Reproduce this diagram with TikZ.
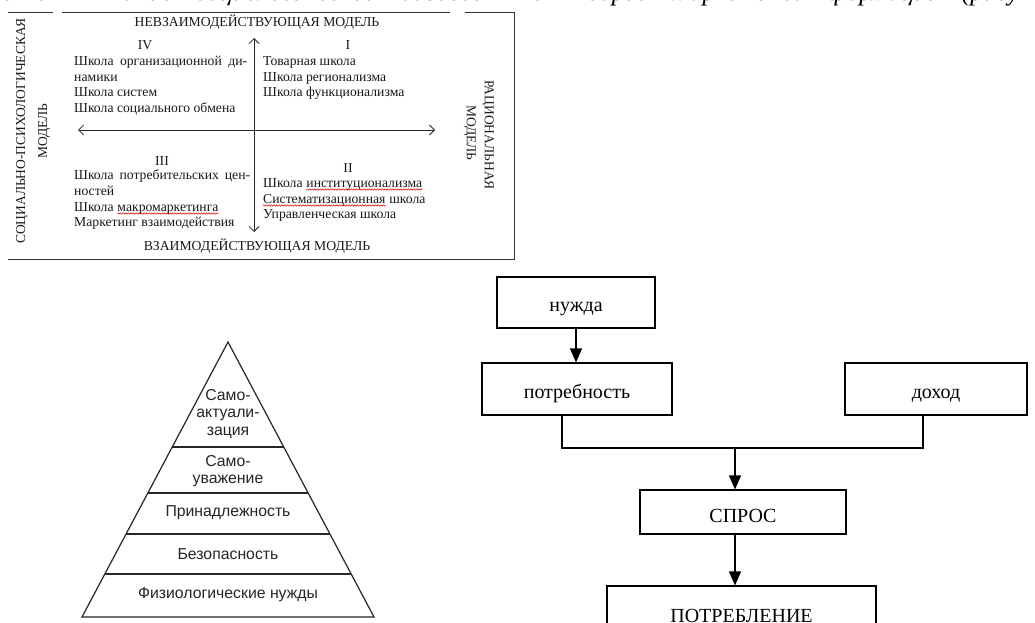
\documentclass[tikz,border=0pt]{standalone}
\usepackage{fontspec}
\setmainfont{Liberation Serif}
\newfontfamily\pyrfont{Liberation Sans}
\usetikzlibrary{arrows.meta,decorations.pathmorphing,calc}
\tikzset{
  frame/.style={draw=black!80, line width=0.9pt},
  axis/.style={draw=black!85, line width=0.8pt, {Straight Barb[length=5pt,width=10pt]}-{Straight Barb[length=5pt,width=10pt]}},
  qt/.style={anchor=base west, inner sep=0pt, font=\fontsize{13.7}{15.5}\selectfont, text=black!90},
  qh/.style={anchor=base, inner sep=0pt, font=\fontsize{13.7}{15.5}\selectfont, text=black!90},
  qr/.style={anchor=center, inner sep=0pt, font=\fontsize{13.5}{15.5}\selectfont, text=black!90},
  wavy/.style={draw=red!85!black, line width=0.5pt, decorate, decoration={snake, amplitude=0.7pt, segment length=2.6pt}},
  pyr/.style={draw=black!85, line width=1.2pt},
  pt/.style={anchor=center, inner sep=0pt, align=center, font=\pyrfont\fontsize{15.8}{17.5}\selectfont, text=black!85},
  fbox/.style={draw=black, line width=1.1pt, rectangle, inner sep=0pt, font=\fontsize{20}{22}\selectfont, text height=21pt, text depth=3pt},
  flow/.style={draw=black, line width=1.1pt},
  farr/.style={flow, -{Triangle[length=14pt,width=12pt]}},
}
\begin{document}
\begin{tikzpicture}[x=1pt,y=-1pt]
\useasboundingbox (0,0) rectangle (1035,623);
\clip (0,0) rectangle (1035,623);
\fill[white] (0,0) rectangle (1035,623);

% clipped caption line at the very top
\node[anchor=base west, inner sep=0pt, font=\fontsize{26}{26}\selectfont\itshape] (cap) at (2,1)
  {\makebox[1030pt][s]{с о \quad\quad ание социологической базовой \quad и теории маркетинга формации (рисун}};

% ---------- quadrant figure ----------
\draw[frame] (8,12) -- (53,12);
\draw[frame] (62,12) -- (450,12);
\draw[frame] (465,12) -- (514,12) -- (514,259) -- (8,259);

\coordinate (vt) at (254,38);
\coordinate (vb) at (254,232);
\coordinate (hl) at (78,130);
\coordinate (hr) at (435,130);
\draw[axis] (vb) -- (vt);
\draw[axis] (hl) -- (hr);

\node[qh] (htop) at (257,27) {НЕВЗАИМОДЕЙСТВУЮЩАЯ МОДЕЛЬ};
\node[qh] (hbot) at (257,250) {ВЗАИМОДЕЙСТВУЮЩАЯ МОДЕЛЬ};
\node[qr, rotate=90] (lm1) at (22,131) {СОЦИАЛЬНО-ПСИХОЛОГИЧЕСКАЯ};
\node[qr, rotate=90] (lm2) at (44,131) {МОДЕЛЬ};
\node[qr, rotate=-90] (rm1) at (488,135) {РАЦИОНАЛЬНАЯ};
\node[qr, rotate=-90] (rm2) at (470,133) {МОДЕЛЬ};

\node[qh] (q4) at (145,50) {IV};
\node[qh] (q1) at (348,50) {I};
\node[qh] (q3) at (162,165) {III};
\node[qh] (q2) at (348,172) {II};

\node[qt] (a1) at (74,66) {\makebox[173pt][s]{Школа организационной ди-}};
\node[qt] (a2) at (74,82) {намики};
\node[qt] (a3) at (74,97) {Школа систем};
\node[qt] (a4) at (74,113) {Школа социального обмена};

\node[qt] (b1) at (263,66) {Товарная школа};
\node[qt] (b2) at (263,82) {Школа регионализма};
\node[qt] (b3) at (263,97) {Школа функционализма};

\node[qt] (c1) at (74,179) {\makebox[176pt][s]{Школа потребительских цен-}};
\node[qt] (c2) at (74,195) {ностей};
\node[qt] (c3) at (74,211) {Школа};
\node[qt] (c3w) at ([xshift=3.5pt]c3.base east) {макромаркетинга};
\node[qt] (c4) at (74,226) {Маркетинг взаимодействия};

\node[qt] (d1) at (263,187) {Школа};
\node[qt] (d1w) at ([xshift=3.5pt]d1.base east) {институционализма};
\node[qt] (d2) at (263,203) {Систематизационная};
\node[qt] (d2b) at ([xshift=3.5pt]d2.base east) {школа};
\node[qt] (d3) at (263,218) {Управленческая школа};

\draw[wavy] ([yshift=-2.5pt]c3w.base west) -- ([yshift=-2.5pt]c3w.base east);
\draw[wavy] ([yshift=-2.5pt]d1w.base west) -- ([yshift=-2.5pt]d1w.base east);
\draw[wavy] ([yshift=-2.5pt]d2.base west) -- ([yshift=-2.5pt]d2.base east);

% ---------- pyramid ----------
\coordinate (ap) at (228,342);
\coordinate (bl) at (82,617);
\coordinate (br) at (374,617);
\draw[pyr, line join=miter] (bl) -- (ap) -- (br) -- cycle;
\foreach \f in {0.3818,0.5491,0.6982,0.8436}{
  \draw[pyr] ($(ap)!\f!(bl)$) -- ($(ap)!\f!(br)$);
}
\node[pt] (p5) at (228,414) {Само-\\актуали-\\зация};
\node[pt] (p4) at (228,471) {Само-\\уважение};
\node[pt] (p3) at (228,513) {Принадлежность};
\node[pt] (p2) at (228,554) {Безопасность};
\node[pt] (p1) at (228,595) {Физиологические нужды};

% ---------- flowchart ----------
\node[fbox, minimum width=158pt, minimum height=51pt] (need) at (576,302.5) {нужда};
\node[fbox, minimum width=190pt, minimum height=52pt] (want) at (577,389) {потребность};
\node[fbox, minimum width=182pt, minimum height=52pt] (inc) at (936,389) {доход};
\node[fbox, minimum width=206pt, minimum height=44pt, text height=20pt, text depth=0pt] (dem) at (743,512) {СПРОС};
\node[fbox, minimum width=269pt, minimum height=54pt, text height=18pt, text depth=0pt] (cons) at (741.5,613) {ПОТРЕБЛЕНИЕ};

\coordinate (j1) at (562,448);
\coordinate (j2) at (923,448);
\coordinate (j3) at (735,448);

\draw[farr] (need.south) -- (need.south |- want.north);
\draw[flow] (want.south -| j1) -- (j1) -- (j2) -- (j2 |- inc.south);
\draw[farr] (j3) -- (j3 |- dem.north);
\draw[farr] (dem.south -| j3) -- (j3 |- cons.north);
\end{tikzpicture}
\end{document}
